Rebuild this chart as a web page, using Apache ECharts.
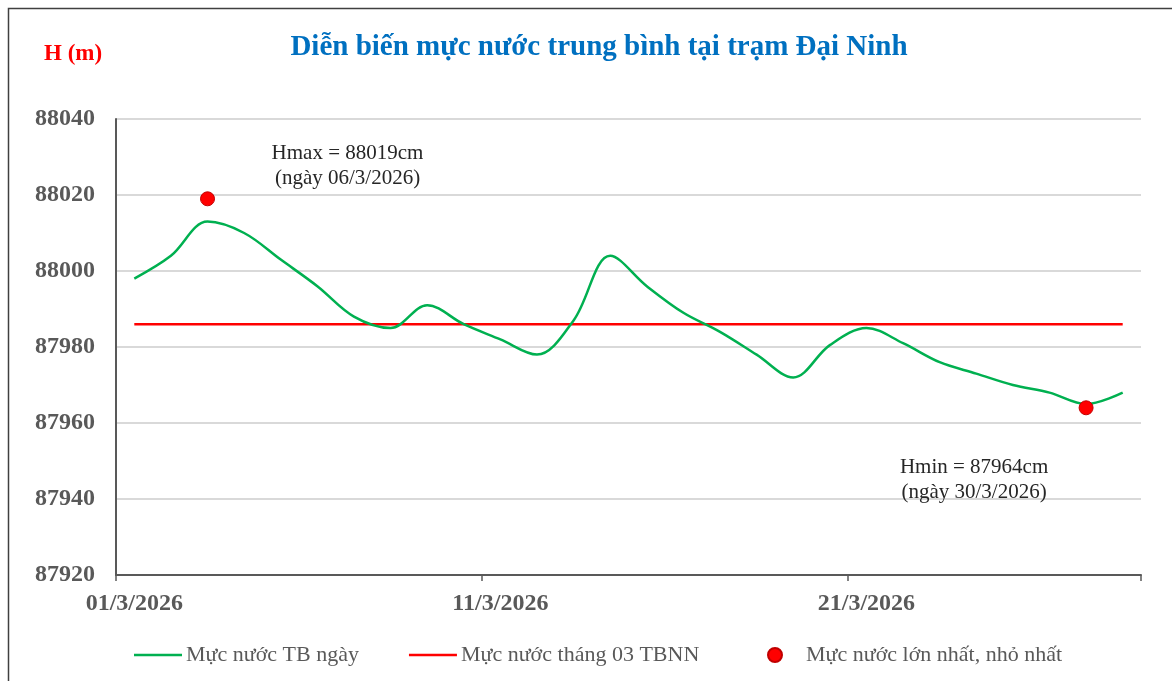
<!DOCTYPE html>
<html>
<head>
<meta charset="utf-8">
<script src="https://cdn.jsdelivr.net/npm/echarts@6/dist/echarts.min.js"></script>
<style>
  html, body { margin: 0; padding: 0; background: #fff; }
  #chart { width: 1172px; height: 681px; }
</style>
</head>
<body>
<div id="chart"></div>
<script>
// ngày trong tháng 3 (trục hoành)
var days = ['01/3/2026', '02/3/2026', '03/3/2026', '04/3/2026', '05/3/2026', '06/3/2026', '07/3/2026',
            '08/3/2026', '09/3/2026', '10/3/2026', '11/3/2026', '12/3/2026', '13/3/2026', '14/3/2026',
            '15/3/2026', '16/3/2026', '17/3/2026', '18/3/2026', '19/3/2026', '20/3/2026', '21/3/2026',
            '22/3/2026', '23/3/2026', '24/3/2026', '25/3/2026', '26/3/2026', '27/3/2026', '28/3/2026'];

// mực nước TB ngày
var avgLevel = [87998, 88004, 88013, 88010, 88003, 87996, 87988, 87985, 87991, 87986,
                87982, 87978, 87987, 88004, 87996, 87989, 87984, 87978, 87972, 87980.5,
                87985, 87981, 87976, 87973, 87970, 87968, 87965, 87968];

// mực nước tháng 03 TBNN
var normLevel = [87986, 87986, 87986, 87986, 87986, 87986, 87986, 87986, 87986, 87986,
                 87986, 87986, 87986, 87986, 87986, 87986, 87986, 87986, 87986, 87986,
                 87986, 87986, 87986, 87986, 87986, 87986, 87986, 87986];

// điểm lớn nhất, nhỏ nhất
var extremes = [null, null, 88019, null, null, null, null, null, null, null,
                null, null, null, null, null, null, null, null, null, null,
                null, null, null, null, null, null, 87964, null];

var yTicks = { min: 87920, max: 88040, step: 20 };

var serif = '"Liberation Serif", "Times New Roman", serif';
var lineIcon = 'path://M0,0H100V5H0Z';

var chart = echarts.init(document.getElementById('chart'));

var dotData = extremes.map(function (v, i) {
    if (v === null) return null;
    var isMax = i === 2;
    return {
        value: v,
        label: {
            show: true,
            formatter: isMax ? 'Hmax = 88019cm\n(ngày 06/3/2026)' : 'Hmin = 87964cm\n(ngày 30/3/2026)',
            offset: isMax ? [140, -33] : [-112, 72]
        }
    };
});

var legendText = { fontFamily: serif, fontSize: 22, color: '#595959', padding: [0, 0, 0, -1] };

var option = {
    animation: false,
    title: [
        {
            text: 'Diễn biến mực nước trung bình tại trạm Đại Ninh',
            left: 594,
            textAlign: 'center',
            top: 28,
            textStyle: { fontFamily: serif, fontSize: 29, fontWeight: 'bold', color: '#0070C0' }
        },
        {
            text: 'H (m)',
            left: 39,
            top: 38,
            textStyle: { fontFamily: serif, fontSize: 23, fontWeight: 'bold', color: '#FF0000' }
        }
    ],
    graphic: [{
        type: 'rect',
        shape: { x: 8.5, y: 8.5, width: 1200, height: 700 },
        style: { fill: null, stroke: '#404040', lineWidth: 1.5 },
        silent: true
    }],
    legend: [
        {
            left: 129,
            top: 639,
            itemWidth: 48,
            itemHeight: 14,
            itemGap: 50,
            textStyle: legendText,
            data: [
                { name: 'Mực nước TB ngày', icon: lineIcon },
                { name: 'Mực nước tháng 03 TBNN', icon: lineIcon }
            ]
        },
        {
            left: 762,
            top: 639,
            itemWidth: 14,
            itemHeight: 14,
            textStyle: { fontFamily: serif, fontSize: 22, color: '#595959', padding: [0, 0, 0, 19] },
            data: [{ name: 'Mực nước lớn nhất, nhỏ nhất', icon: 'circle' }]
        }
    ],
    grid: { left: 116, right: 31, top: 119, bottom: 106 },
    xAxis: {
        type: 'category',
        data: days,
        boundaryGap: true,
        axisLine: { lineStyle: { color: '#595959', width: 2 } },
        axisTick: { show: true, interval: 9, length: 6, lineStyle: { color: '#595959', width: 1.5 } },
        axisLabel: {
            interval: 9,
            margin: 17,
            fontFamily: serif,
            fontSize: 24,
            fontWeight: 'bold',
            color: '#595959'
        },
        splitLine: { show: false }
    },
    yAxis: {
        type: 'value',
        min: yTicks.min,
        max: yTicks.max,
        interval: yTicks.step,
        axisLine: { show: true, lineStyle: { color: '#595959', width: 2 } },
        axisTick: { show: false },
        axisLabel: {
            margin: 21,
            fontFamily: serif,
            fontSize: 24,
            fontWeight: 'bold',
            color: '#595959',
            formatter: function (v) { return String(v); }
        },
        splitLine: { lineStyle: { color: '#D9D9D9', width: 2 } }
    },
    series: [
        {
            name: 'Mực nước TB ngày',
            type: 'line',
            data: avgLevel,
            smooth: 0.35,
            symbol: 'none',
            lineStyle: { color: '#00B050', width: 2.5 },
            itemStyle: { color: '#00B050' },
            z: 3
        },
        {
            name: 'Mực nước tháng 03 TBNN',
            type: 'line',
            data: normLevel,
            symbol: 'none',
            lineStyle: { color: '#FF0000', width: 2.5 },
            itemStyle: { color: '#FF0000' },
            z: 2
        },
        {
            name: 'Mực nước lớn nhất, nhỏ nhất',
            type: 'scatter',
            data: dotData,
            symbol: 'circle',
            symbolSize: 14,
            itemStyle: { color: '#FF0000', borderColor: '#C00000', borderWidth: 1, opacity: 1 },
            label: {
                fontFamily: serif,
                fontSize: 21,
                lineHeight: 25,
                color: '#262626',
                align: 'center'
            },
            z: 4
        }
    ]
};

chart.setOption(option);
</script>
</body>
</html>
